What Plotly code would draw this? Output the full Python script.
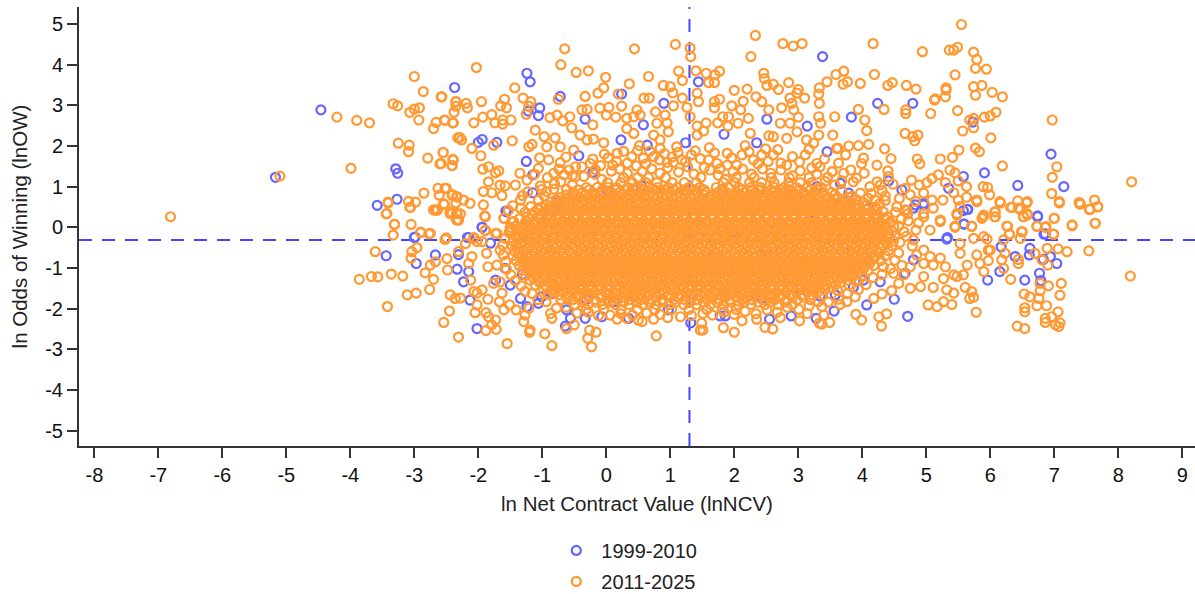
import plotly.graph_objects as go

x_ticks = [-8,-7,-6,-5,-4,-3,-2,-1,0,1,2,3,4,5,6,7,8,9]
y_ticks = [-5,-4,-3,-2,-1,0,1,2,3,4,5]
x_tick_labels = ["-8","-7","-6","-5","-4","-3","-2","-1","0","1","2","3","4","5","6","7","8","9"]
y_tick_labels = ["-5","-4","-3","-2","-1","0","1","2","3","4","5"]
mean_lnncv = 1.30
mean_lnow = -0.31

blue_points = [(-5.17,1.23),(-4.46,2.89),(-3.29,1.44),(-3.26,1.33),(-2.37,3.44),(-3.27,.69),(-3.58,.54),(-2.99,-.24),
(-1.24,3.79),(-1.19,3.58),(-.72,3.22),(-1.04,2.94),(-1.22,2.86),(-1.06,2.75),(-1.94,2.16),(-2.0,2.09),(-1.71,2.09),(-1.25,1.62),(-.43,1.76),(.23,2.15),(.64,2.02),(1.24,2.08),(1.44,3.58),(3.38,4.20),(1.84,2.29),(3.14,2.49),(2.51,2.66),(.90,3.05),(.24,3.28),(-.33,2.66),(.58,2.52),(2.35,2.08),(3.45,1.86),(-.21,1.35),(-1.15,1.29),(-1.15,.85),(-1.57,.40),(-1.94,0),(-2.17,-.25),
(4.24,3.05),(4.79,3.05),(3.83,2.71),(5.73,2.59),(6.95,1.80),(7.15,1.0),(6.43,1.03),(5.91,1.34),(5.58,1.25),(6.74,.26),(4.41,1.14),(4.62,.92),(5.35,.96),(5.65,.44),(5.58,.41),(5.59,.08),(5.33,-.25),(6.84,-.17),(3.79,.84),(4.96,.59),(4.80,.47),(4.10,.47),(3.29,1.0),(3.08,.84),(3.66,1.08),
(-3.0,-.25),(-3.44,-.70),(-2.67,-.68),(-2.97,-.89),(-2.33,-1.03),(-2.15,-1.09),(-2.23,-1.34),(-1.73,-1.30),(-1.58,-1.01),(-1.94,0),(-2.15,-.25),(-2.31,-.67),(-1.81,-.39),(-1.56,.38),(-2.02,-2.49),(-2.13,-1.79),(-1.24,-1.95),(-.64,-2.43),(-.56,-2.24),(-.07,-2.20),(-.33,-2.24),(.35,-2.24),(1.32,-2.35),(-1.50,-1.42),(-1.34,-1.75),(-1.06,-1.87),(-1.01,-1.71),(-.62,-2.03),(.11,-1.83),(.97,-2.03),
(6.74,.28),(5.59,.08),(5.64,.44),(6.86,-.16),(5.32,-.29),(6.17,-.48),(6.62,-.52),(6.39,-.72),(6.61,-.68),(6.83,-.79),(6.94,-.72),(7.04,-.89),(6.77,-1.13),(6.79,-1.31),(6.54,-1.30),(6.15,-1.09),(5.96,-1.30),(4.50,-1.77),(4.71,-2.19),(4.07,-1.91),(3.56,-2.06),(3.28,-2.24),(2.89,-2.18),(2.55,-2.26),(1.78,-2.18),(1.86,-2.18),(3.58,-1.66),(3.34,-1.69),(2.43,-1.75),(3.86,-1.48),(4.28,-1.34),(4.02,-1.30),(4.67,-1.13),(4.80,-.80),(4.42,-.23),(4.96,.55),(4.83,.55)]

blue_core = [(-.9,.31),(-.42,-.18),(.13,.52),(.71,-1.13),(1.22,.42),(1.67,-.72),(2.21,.63),(2.74,-1.21),(3.26,.17),(3.71,-.44),(-1.1,-.82),(-.61,-1.38),(-.15,-.63),(.38,-1.62),(.92,.11),(1.45,-1.44),(1.98,-.11),(2.49,-.58),(3.03,-1.53),(3.52,.58),(-.77,.62),(.02,.89),(.55,1.02),(1.12,-1.71),(1.81,.93),(2.33,-1.66),(2.87,.81),(3.41,-1.12),(3.93,-.93),(4.18,.12),(-1.22,-.31),(-1.31,-1.16),(-.85,-1.63),(-.31,-1.77)]

orange_left = [(-6.81,.26),(-5.10,1.26),(-4.21,2.71),(-3.90,2.63),(-3.70,2.57),(-3.99,1.45),(-3.25,2.07),(-3.08,2.02),(-3.09,1.86),(-2.79,1.70),(-2.60,1.56),(-2.55,1.84),(-2.39,1.66),(-2.41,1.52),(-2.32,2.20),(-3.33,3.04),(-3.26,2.99),(-3.07,2.83),(-3.0,2.91),(-2.92,2.94),(-2.93,2.64),(-3.0,3.71),(-2.86,3.34),(-2.58,3.21),(-2.35,3.09),(-2.35,2.98),(-2.38,2.83),(-2.52,2.63),(-2.66,2.58),(-2.70,2.43),(-2.39,2.57),
(-2.63,.96),(-2.50,.96),(-2.85,.84),(-2.61,.79),(-2.41,.79),(-2.34,.75),(-3.41,.62),(-3.44,.33),(-3.09,.64),(-2.98,.62),(-3.07,.49),(-2.53,.57),(-2.35,.60),(-2.67,.42),(-2.64,.42),(-2.70,.43),(-2.44,.34),(-2.34,.34),(-2.34,.18),(-3.31,.07),(-3.05,.07),(-3.33,-.19),(-2.90,-.12),(-2.77,-.16),(-2.50,-.26),
(-3.43,.34),(-3.31,.07),(-2.90,-.13),(-2.75,-.15),(-2.52,-.30),(-3.61,-.60),(-2.96,-.50),(-3.04,-.60),(-3.05,-.76),(-3.86,-1.28),(-3.67,-1.21),(-3.57,-1.22),(-3.36,-1.15),(-3.18,-1.20),(-2.83,-1.12),(-2.70,-1.28),(-2.75,-.93),(-2.67,-.85),(-2.49,-.77),(-2.48,-1.05),(-2.76,-1.53),(-3.11,-1.66),(-2.97,-1.62),(-3.42,-1.95),(-2.44,-1.66),(-2.36,-1.75),(-2.28,-1.74),(-2.45,-2.06),(-2.54,-2.34),(-2.31,-2.70),(-2.05,-2.10),(-1.88,-2.10),(-1.84,-2.20),(-1.73,-2.28),(-1.79,-2.40),(-1.88,-2.54),(-1.72,-2.51),(-1.55,-2.86),(-2.07,-1.58),(-1.94,-1.54),(-2.02,-1.62),(-1.85,-1.77),(-2.02,-1.91),(-1.67,-1.83),(-1.63,-1.62),(-1.51,-1.91),(-1.60,-2.03),(-1.41,-2.03),(-1.27,-2.16),(-1.29,-2.32),(-1.19,-2.53),(-1.2,-2.58),(-.96,-2.62),(-.85,-2.91),(-1.21,-1.99),(-.87,-2.12),(-.85,-2.24),(-.62,-2.49),(-.50,-2.40),(-.29,-2.73),(-.26,-2.53),(-.16,-2.58),(-.23,-2.94),(.17,-2.26),(.32,-2.24),(.50,-2.28),(.56,-2.32),(.74,-2.26),(.96,-2.22),(1.16,-2.20),(.78,-2.67),(1.47,-2.53),
(-2.20,-.40),(-2.07,-.27),(-1.71,-.15),(-1.89,-.08),(-1.50,0),(-1.60,.22),(-1.45,.14),(-1.90,.28),(-2.31,.18),(-2.28,.33),(-2.65,.43),(-2.41,.34),(-2.54,.57),(-3.06,.49),(-3.41,.60),(-2.10,-.72),(-1.87,-.64),(-1.71,-.93),(-1.85,-.97),(-2.15,-.89),(-1.66,-.56),(-2.02,-.35),(-1.94,-.35),(-2.12,-1.30),(-1.76,-1.38),(-1.66,-1.34),(-2.31,-.60)]

orange_top = [(-2.03,3.93),(-2.57,3.21),(-2.35,3.09),(-2.19,3.05),(-2.17,2.94),(-1.95,3.09),(-2.53,2.64),(-2.40,2.57),(-2.07,2.57),(-1.93,2.71),(-1.79,2.77),(-1.74,2.57),(-1.62,2.64),(-1.62,2.54),(-1.49,2.64),(-1.43,3.43),(-1.59,3.15),(-1.65,2.99),(-1.56,2.94),(-1.30,3.18),(-1.18,3.09),(-1.21,2.98),(-1.25,2.78),
(-.71,4.0),(-.65,4.39),(-.47,3.81),(-.28,3.85),(-.01,3.69),(-.04,3.43),(-.13,3.30),(.36,3.53),(.44,4.39),(.66,3.71),(1.08,4.50),(1.31,4.41),(1.32,4.20),(1.13,3.84),(1.19,3.61),(1.40,3.85),(1.56,3.79),(1.77,3.84),(1.70,3.75),(1.60,3.56),(1.69,3.56),(.89,3.49),(1.0,3.46),(1.04,3.31),(2.33,4.72),(2.26,4.20),(2.76,4.52),(2.92,4.46),(3.06,4.52),(2.46,3.79),(2.47,3.66),(2.51,3.49),(2.61,3.52),(2.69,3.39),(2.85,3.56),(2.0,3.37),(2.2,3.40),(3.0,3.39),(2.98,3.30),(2.87,3.18),(3.10,3.18),(3.33,3.43),(3.32,3.28),(3.45,3.58),(3.59,3.76),(3.33,3.05),
(-.33,3.22),(-.75,3.15),(.19,3.28),(.67,3.18),(.59,3.18),(1.19,3.18),(1.44,3.09),(1.42,3.30),(1.77,3.15),(1.69,3.09),(1.96,2.99),(2.14,3.10),(2.34,3.21),(2.43,3.09),(2.90,3.05),(1.05,2.99),(1.26,2.95),(1.69,2.94),(2.10,2.89),(2.54,2.89),(2.74,2.94),(2.93,2.89),
(-.38,2.89),(-.30,2.90),(-.10,2.93),(.04,2.95),(.24,2.98),(.48,2.89),(.53,2.76),(.77,2.84),(.92,2.76),(-.88,2.70),(-.77,2.76),(-.68,2.62),(-.57,2.72),(-.54,2.45),(-.21,2.52),(0,2.76),(.15,2.71),(.32,2.68),(.43,2.72),(.32,2.43),(.43,2.31),(.79,2.56),(.95,2.57),(.97,2.35),(1.31,2.72),(1.42,2.49),(1.42,2.27),(1.56,2.57),(1.52,2.37),(1.74,2.57),(1.82,2.72),(1.91,2.72),(1.90,2.49),(2.06,2.56),(2.22,2.68),(2.25,2.31),(2.54,2.25),(2.61,2.23),(2.72,2.56),(2.87,2.56),(3.0,2.71),(3.32,2.72),(3.35,2.56),(3.54,2.27),(3.57,2.72),
(-1.11,2.39),(-.97,2.23),(-.80,2.20),(-.41,2.27),(-.30,2.15),(-.2,2.17),(-2.29,2.21),(-2.26,2.15),(-2.10,1.94),(-1.76,2.02),(-1.47,2.13),(-1.21,1.98),(-1.16,2.04),(-.93,1.98),(-.72,1.98),(-.51,1.90),(-.04,2.08),(.17,1.82),(.52,2.01),(.74,2.27),(.84,2.15),(.84,1.94),(1.10,1.98),(1.39,1.88),(1.61,1.96),(1.89,1.82),(2.17,2.01),(2.43,1.78),(2.82,2.19),(2.98,2.35),(3.13,2.15),(3.32,2.27),(3.24,2.07),(3.60,1.94),
(-2.55,1.84),(-2.40,1.67),(-2.41,1.52),(-2.58,1.57),(-1.96,1.76),(-1.93,1.43),(-1.84,1.49),(-1.68,1.39),(-1.73,1.34),(-1.35,1.33),(-1.06,1.45),(-1.04,1.71),(-.90,1.66),(-.72,1.59),(-.82,1.33),(-.48,1.49),(-.38,1.49),(-.48,1.25),(-.35,1.25),(-.25,1.57),(-.09,1.52),(-.03,1.80),(.10,1.53),(.40,1.74),(.58,1.70),(.74,1.74),(.95,1.60),(1.05,1.60),(1.18,1.66),(1.60,1.66),(1.73,1.57),(1.89,1.53),(2.12,1.78),(2.30,1.66),(2.61,1.78),(2.82,1.53),(3.11,1.78),(3.29,1.57),(3.53,1.37),
(-2.52,.96),(-2.40,.80),(-2.33,.75),(-2.23,.67),(-2.54,.57),(-2.44,.38),(-2.31,.18),(-2.33,.34),(-2.13,.59),(-1.92,.88),(-1.84,1.12),(-1.79,.85),(-1.66,1.04),(-1.58,1.02),(-1.63,.78),(-1.92,.55),(-1.89,.26),(-1.60,.22),(-1.45,.14),(-1.34,.67),(-1.34,.47),(-1.42,1.04),(-1.24,1.16),(-1.03,1.02),(-1.89,-.07),(-1.73,-.15),(-1.50,-.07),(-2.07,-.25)]

orange_fringe = [(-.71,1.12),(-.62,.93),(-.93,.88),(-.18,1.31),(-.07,1.18),(.08,1.38),(.21,1.43),(.33,1.33),(.47,1.51),(.56,1.37),(.71,1.44),(.84,1.33),(.96,1.47),(1.13,1.36),(1.27,1.49),(1.37,1.31),(1.48,1.23),(1.62,1.41),(1.75,1.28),(1.86,1.18),(1.98,1.37),(2.13,1.43),(2.27,1.31),(2.44,1.44),(2.57,1.33),(2.73,1.41),(2.91,1.27),(3.03,1.39),(3.17,1.22),(3.29,1.31),(3.42,1.13),(3.57,1.04),(3.68,.89),(3.84,.76),(3.97,.84),(4.09,.72),(4.27,.58),(4.36,.66),(4.52,.37),(4.61,.21),(4.57,.03),(4.72,.16),(4.84,-.07),(4.69,-.22),(4.59,-.37),(4.78,-.46),(4.57,-.63),(4.51,-.81),(4.62,-.94),(4.44,-1.02),(4.31,-1.16),(4.17,-1.24),(4.06,-1.41),(3.94,-1.53),(3.77,-1.63),(3.63,-1.77),(3.47,-1.84),(3.31,-1.83),(3.17,-1.93),(3.01,-2.02),(2.83,-1.97),(2.67,-2.09),(2.51,-2.03),(2.34,-2.13),(2.17,-2.07),(2.0,-2.14),(1.84,-2.09),(1.66,-2.16),(1.51,-2.12),(1.33,-2.17),(.84,-2.14),(.63,-2.11),(.41,-2.16),(.23,-2.13),(.06,-2.16),(-.12,-2.17),(-.28,-2.09),(-.46,-2.11),(-.63,-1.97),(-.78,-1.99),(-.94,-1.83),(-1.07,-1.78),(-1.16,-1.63),(-1.27,-1.58),(-1.33,-1.44),(-1.42,-1.31),(-1.49,-1.17),(-1.56,-1.03),(-1.57,-.84),(-1.61,-.68),(-1.62,-.44),(-1.58,-.27),(-1.52,-.13),(-1.41,.03),(-1.36,.21),(-1.27,.37),(-1.18,.51),(-1.06,.67),(-.97,.77),(-.82,.94),(-.53,1.04)]

orange_mid_band = [(-.63,1.73),(-.58,1.41),(-.21,1.68),(-.17,1.42),(.03,1.71),(.16,1.62),(.27,1.87),(.33,1.58),(.49,1.89),(.62,1.56),(.68,1.87),(.83,1.66),(.91,1.81),(1.03,1.73),(1.12,1.84),(1.24,1.61),(1.33,1.78),(1.47,1.69),(1.53,1.47),(1.69,1.83),(1.78,1.44),(1.96,1.71),(2.04,1.53),(2.23,1.86),(2.37,1.56),(2.49,1.93),(2.53,1.62),(2.68,1.91),(2.73,1.58),(2.91,1.74),(3.02,1.61),(3.17,1.92),(3.21,1.46),(3.41,1.68),(3.46,1.23),(3.63,1.58),(3.68,1.14),(3.82,1.41),(3.91,1.21),(4.03,1.33),(4.14,.83),(4.28,1.04),(4.36,.77),(4.58,.71),(4.67,.96),(4.83,.64),(4.89,1.04),(4.71,.33),(4.88,.11),(-1.12,1.31),(-1.01,.93),(-.92,1.22),(-.81,1.07),(-.74,1.43),(-.66,1.29),(-.53,1.27),(-1.23,.87),(-1.31,.78),(-1.46,.53),(-1.53,.42)]

orange_right = [(4.17,4.52),(4.94,4.32),(5.55,4.99),(5.36,4.36),(5.43,4.36),(5.49,4.43),(5.74,4.31),(5.79,4.13),(5.77,3.91),(5.94,3.89),(5.45,3.75),(4.19,3.76),(3.71,3.84),(3.70,3.52),(3.77,3.58),(3.97,3.54),(4.40,3.49),(4.47,3.56),(4.69,3.49),(4.84,3.40),(5.31,3.43),(5.31,3.38),(5.30,3.21),(5.13,3.13),(5.14,3.16),(5.74,3.46),(5.87,3.49),(5.77,3.25),(6.03,3.32),(6.19,3.21),(5.49,2.87),(5.07,2.80),(4.68,2.89),(4.68,2.80),(4.34,2.90),(3.94,2.90),(4.04,2.64),(4.07,2.38),(6.09,2.83),(6.0,2.74),(5.91,2.71),(5.68,2.64),(5.74,2.68),(5.74,2.45),(5.57,2.37),(6.97,2.64),(6.01,2.20),(4.67,2.31),(4.87,2.27),(4.79,2.23),(4.82,2.13),(3.79,2.0),(3.94,2.01),(4.10,2.04),(3.62,1.94),(4.35,1.93),(4.45,1.69),(3.74,1.78),(4.02,1.70),(3.99,1.57),(4.23,1.53),(4.86,1.68),(4.90,1.56),(5.22,1.68),(5.41,1.72),(5.51,1.90),(5.77,1.95),(5.83,1.86),(6.19,1.51),(7.04,1.49),(6.97,1.23),(8.21,1.12),(6.96,.83),(7.08,.63),(7.39,.61),(7.63,.67),(7.68,.50),(7.55,.44),(7.40,.57),(7.64,.10),(7.28,.04),(7.0,.22),(6.86,0),(6.73,.02),(6.99,-.17),(6.32,.49),(6.43,.65),(6.58,.63),(6.47,.44),(6.52,.26),(6.58,.33),(6.27,.02),(6.50,-.11),(6.30,-.17),(6.15,.63),(5.79,.67),(6.07,.38),(6.08,.26),(5.89,.26),(5.71,.02),(5.89,1.0),(5.96,.98),(5.99,.80),(5.63,1.0),(5.37,1.41),(5.45,1.34),(5.50,1.14),(5.19,1.29),(5.09,1.20),(5.01,1.10),(4.77,1.16),(4.96,.84),(5.30,1.10),(5.43,.85),(5.63,.74),(5.50,.67),(5.26,.67),(5.09,.67),(5.53,.51),(5.48,.30),(4.40,1.39),(4.41,1.25),(4.48,1.06),(4.23,1.12),(4.12,1.0),(3.86,1.12),(3.71,1.33),(3.53,1.37),(3.34,1.49),(4.31,.90),(4.75,.80),(4.20,.67),(4.67,.43),(4.54,.51),(5.11,.47),(4.96,.34),(5.22,.18),(5.45,.03)]

orange_bottom_right = [(1.49,-2.36),(1.51,-2.53),(1.83,-2.47),(2.0,-2.58),(2.12,-2.30),(2.35,-2.26),(2.48,-2.46),(2.60,-2.50),(2.72,-2.22),(3.02,-2.30),(3.14,-2.12),(3.33,-2.36),(3.37,-2.38),(3.49,-2.34),(3.40,-2.16),(3.37,-1.95),(3.90,-2.14),(3.99,-2.28),(4.26,-2.20),(4.38,-2.13),(4.30,-2.43),(3.65,-1.90),(3.76,-1.83),(3.89,-1.71),(4.18,-1.75),(4.31,-1.64),(4.46,-1.56),(4.75,-1.50),(5.03,-1.91),(5.17,-1.95),(5.40,-1.90),(5.27,-1.83),(5.78,-2.09),(5.68,-1.75),(5.74,-1.72),(5.71,-1.58),(5.61,-1.48),(5.43,-1.62),(5.32,-1.54),(5.48,-1.21),(5.27,-1.26),(5.11,-1.48),(4.91,-1.46),(6.32,-1.28),(6.53,-1.64),(6.62,-1.71),(6.76,-1.75),(6.73,-1.93),(6.88,-1.93),(6.54,-1.98),(6.54,-2.08),(7.06,-2.08),(6.96,-2.20),(6.86,-2.24),(6.86,-2.34),(7.02,-2.40),(7.07,-2.44),(7.09,-2.35),(6.42,-2.43),(6.54,-2.49),(7.09,-1.67),(7.11,-1.38),(6.91,-1.44),(6.78,-1.38),(6.78,-1.56),(8.19,-1.20),(7.54,-.58),(7.20,-.60),(7.06,-.53),(6.90,-.93),(6.89,-.52),(6.81,-.80),(6.70,-.64),(6.44,-.89),(6.44,-.79),(6.23,-.64),(6.18,-.80),(6.21,-1.01),(6.0,-.56),(5.97,-.56),(5.97,-.82),(5.74,-.27),(5.90,-.23),(5.95,-.29),(5.53,-.40),(5.53,-.64),(5.45,0),(5.71,.03),(5.87,.22),(5.90,.30),(6.08,.38),(6.07,.26),(6.26,.03),(6.30,-.17),(6.21,-.31),(6.49,-.11),(6.47,-.27),(6.73,.03),(6.87,.02),(6.99,-.17),(7.0,.22),(7.28,.06),(7.64,.10),(7.68,.51),(7.41,.57),(7.56,.44),(7.08,.60),(6.34,.49),(6.44,.47),(6.58,.30),(6.52,.26),(6.16,.60),(6.57,.60),(5.79,.63),(5.48,.34),(5.22,-.76),(5.30,-.97),(5.43,-1.17),(5.79,-.68),(5.84,-.89),(5.90,-1.09),(5.64,-.93),(5.58,-1.17),(4.96,-.56),(5.06,-.72),(4.85,-.68),(4.96,-.89),(5.11,-.93),(4.75,-.97),(4.65,-1.17),(4.49,-1.13),(4.33,-.97),(4.57,-1.38),(4.96,-1.21),(5.22,.14),(5.06,-.07),(4.80,-.31),(4.65,-.11),(4.96,.26),(4.70,.42)]

# The dense centre cannot be read ring by ring: each row is an estimate of where rings lie at that lnOW
core_y = [1.22,1.1,.98,.86,.74,.62,.5,.38,.26,.14,.02,-.1,-.22,-.34,-.46,-.58,-.7,-.82,-.94,-1.06,-1.18,-1.3,-1.42,-1.54,-1.66,-1.78,-1.9,-2.02]
core_rows = [
[.27,.49,.66,.93,2.03,2.31,2.58,2.86],
[.02,.23,.41,.62,.79,1.03,1.22,1.41,1.83,2.01,2.24,2.43,2.62,2.85,3.03,3.21],
[-.31,-.14,.03,.16,.34,.47,.66,.8,.97,1.11,1.29,1.46,1.72,1.91,2.07,2.26,2.41,2.63,2.78,2.97,3.14,3.36],
[-.52,-.37,-.21,-.08,.08,.21,.38,.52,.69,.83,.98,1.14,1.27,1.43,1.56,1.74,1.88,2.04,2.17,2.33,2.49,2.62,2.79,2.93,3.08,3.24,3.37,3.52],
[-.71,-.58,-.42,-.27,-.13,.01,.14,.31,.44,.59,.73,.87,1.02,1.16,1.31,1.44,1.61,1.73,1.89,2.03,2.18,2.31,2.46,2.61,2.74,2.88,3.03,3.17,3.33,3.46,3.61,3.79],
[-.87,-.72,-.59,-.44,-.31,-.16,-.03,.12,.26,.41,.54,.68,.83,.97,1.12,1.26,1.39,1.53,1.68,1.82,1.96,2.11,2.24,2.38,2.53,2.67,2.81,2.96,3.09,3.24,3.38,3.53,3.67,3.82,4.01],
[-1.02,-.86,-.73,-.57,-.44,-.29,-.14,-.02,.13,.28,.41,.56,.69,.84,.98,1.13,1.27,1.41,1.54,1.69,1.83,1.97,2.12,2.26,2.39,2.54,2.68,2.83,2.97,3.11,3.24,3.39,3.53,3.68,3.81,3.96,4.2],
[-1.12,-.98,-.83,-.69,-.54,-.41,-.26,-.12,.03,.17,.31,.44,.59,.73,.88,1.01,1.16,1.29,1.44,1.58,1.73,1.86,2.01,2.14,2.29,2.43,2.58,2.71,2.86,3.01,3.14,3.29,3.42,3.57,3.71,3.86,3.99,4.14,4.33],
[-1.23,-1.07,-.94,-.78,-.64,-.51,-.36,-.22,-.07,.06,.21,.36,.49,.64,.78,.93,1.06,1.21,1.36,1.49,1.64,1.78,1.92,2.07,2.21,2.34,2.49,2.64,2.77,2.92,3.06,3.21,3.34,3.48,3.63,3.77,3.91,4.06,4.19,4.39],
[-1.26,-1.13,-.98,-.84,-.69,-.56,-.41,-.27,-.13,.02,.16,.29,.44,.58,.73,.87,1.01,1.14,1.29,1.43,1.57,1.72,1.86,1.99,2.14,2.28,2.43,2.56,2.71,2.84,2.99,3.13,3.27,3.42,3.56,3.69,3.84,3.98,4.13,4.27,4.44],
[-1.32,-1.18,-1.03,-.89,-.76,-.61,-.47,-.33,-.18,-.04,.09,.24,.38,.53,.66,.81,.96,1.09,1.23,1.38,1.51,1.66,1.81,1.94,2.09,2.22,2.37,2.51,2.66,2.79,2.94,3.08,3.22,3.36,3.51,3.64,3.79,3.92,4.07,4.21,4.36,4.49],
[-1.36,-1.22,-1.08,-.93,-.79,-.66,-.51,-.37,-.23,-.08,.06,.2,.34,.48,.63,.77,.91,1.04,1.19,1.33,1.48,1.61,1.76,1.9,2.04,2.18,2.33,2.46,2.61,2.75,2.89,3.03,3.18,3.31,3.46,3.6,3.74,3.88,4.03,4.16,4.31,4.47],
[-1.42,-1.27,-1.14,-.99,-.84,-.71,-.56,-.42,-.28,-.13,.01,.14,.29,.43,.58,.71,.86,.99,1.14,1.28,1.43,1.56,1.71,1.84,1.99,2.13,2.28,2.41,2.56,2.69,2.84,2.98,3.12,3.27,3.41,3.54,3.69,3.83,3.97,4.12,4.26,4.39,4.51],
[-1.46,-1.31,-1.17,-1.03,-.88,-.74,-.61,-.46,-.32,-.18,-.03,.11,.24,.39,.53,.68,.81,.96,1.09,1.24,1.38,1.53,1.66,1.81,1.94,2.09,2.23,2.37,2.52,2.66,2.79,2.94,3.08,3.23,3.36,3.51,3.64,3.79,3.93,4.08,4.21,4.36,4.49],
[-1.47,-1.33,-1.19,-1.04,-.91,-.76,-.62,-.48,-.33,-.19,-.06,.09,.23,.38,.51,.66,.79,.94,1.08,1.23,1.36,1.51,1.64,1.79,1.93,2.07,2.21,2.36,2.49,2.64,2.78,2.92,3.06,3.21,3.34,3.49,3.63,3.77,3.91,4.06,4.19,4.33,4.46],
[-1.44,-1.31,-1.16,-1.02,-.88,-.73,-.59,-.46,-.31,-.17,-.02,.11,.26,.39,.54,.68,.83,.96,1.11,1.24,1.39,1.53,1.67,1.81,1.96,2.09,2.24,2.38,2.52,2.66,2.81,2.94,3.09,3.23,3.37,3.51,3.66,3.79,3.94,4.08,4.22,4.41],
[-1.46,-1.32,-1.17,-1.03,-.89,-.74,-.61,-.47,-.32,-.18,-.04,.11,.24,.38,.53,.67,.81,.94,1.09,1.23,1.37,1.52,1.66,1.79,1.94,2.08,2.22,2.36,2.51,2.64,2.79,2.93,3.07,3.22,3.36,3.49,3.64,3.78,3.92,4.06,4.19,4.36],
[-1.41,-1.27,-1.13,-.98,-.84,-.71,-.56,-.42,-.28,-.13,.01,.14,.29,.43,.58,.71,.86,.99,1.14,1.28,1.42,1.56,1.71,1.84,1.99,2.13,2.27,2.42,2.56,2.69,2.84,2.98,3.12,3.26,3.41,3.54,3.69,3.83,3.97,4.11,4.29],
[-1.36,-1.22,-1.07,-.93,-.79,-.64,-.51,-.37,-.22,-.08,.06,.21,.34,.48,.63,.77,.91,1.04,1.19,1.33,1.47,1.62,1.76,1.89,2.04,2.18,2.32,2.47,2.61,2.74,2.89,3.03,3.17,3.31,3.46,3.59,3.74,3.88,4.02,4.18],
[-1.31,-1.17,-1.02,-.88,-.74,-.59,-.46,-.32,-.17,-.03,.11,.26,.39,.53,.68,.82,.96,1.09,1.24,1.38,1.52,1.67,1.81,1.94,2.09,2.23,2.37,2.52,2.66,2.79,2.94,3.08,3.22,3.37,3.51,3.64,3.79,3.93,4.09],
[-1.26,-1.11,-.97,-.83,-.68,-.54,-.41,-.26,-.12,.02,.17,.31,.44,.59,.73,.88,1.01,1.16,1.29,1.44,1.58,1.72,1.87,2.01,2.14,2.29,2.43,2.57,2.72,2.86,2.99,3.14,3.28,3.42,3.57,3.71,3.84,3.99],
[-1.19,-1.06,-.91,-.77,-.63,-.48,-.34,-.21,-.06,.08,.22,.37,.51,.64,.79,.93,1.07,1.22,1.36,1.49,1.64,1.78,1.92,2.07,2.21,2.34,2.49,2.63,2.77,2.92,3.06,3.19,3.34,3.48,3.62,3.77,3.91],
[-1.11,-.96,-.82,-.68,-.53,-.39,-.26,-.11,.03,.17,.32,.46,.59,.74,.88,1.02,1.17,1.31,1.44,1.59,1.73,1.87,2.02,2.16,2.29,2.44,2.58,2.72,2.87,3.01,3.14,3.29,3.43,3.58,3.79],
[-.98,-.84,-.69,-.56,-.41,-.27,-.13,.02,.16,.29,.44,.58,.72,.87,1.01,1.14,1.29,1.43,1.57,1.72,1.86,1.99,2.14,2.28,2.42,2.57,2.71,2.84,2.99,3.13,3.27,3.42,3.61],
[-.91,-.74,-.58,-.43,-.27,-.11,.04,.21,.36,.53,.68,.84,.99,1.16,1.31,1.47,1.62,1.79,1.94,2.11,2.26,2.42,2.57,2.74,2.89,3.06,3.21,3.38],
[-.71,-.53,-.36,-.18,.01,.18,.36,.53,.71,.88,1.06,1.23,1.42,1.58,1.77,1.93,2.12,2.28,2.47,2.63,2.82,2.98,3.19],
[-.49,-.28,-.06,.14,.36,.57,.78,.98,1.21,1.41,1.63,1.83,2.06,2.26,2.48,2.68,2.91],
[-.31,-.04,.23,.49,.76,1.02,1.29,1.57,1.81,2.03]]

fill_y = [.92,.8,.68,.56,.44,.32,.2,.08,-.04,-.16,-.28,-.4,-.52,-.64,-.76,-.88,-1.0,-1.12,-1.24,-1.36,-1.48,-1.6,-1.72,-1.84]
fill_rows = [
[-.44,-.27,-.06,.15,.29,.46,.6,.76,.91,1.06,1.21,1.37,1.53,1.81,2.12,2.27,2.41,2.57,2.72,2.87,3.01,3.19,3.31],
[-.63,-.48,-.33,-.19,-.06,.09,.24,.37,.51,.66,.8,.94,1.09,1.23,1.37,1.52,1.66,1.81,1.96,2.09,2.24,2.38,2.53,2.67,2.81,2.94,3.11,3.26,3.41,3.57],
[-.78,-.64,-.51,-.36,-.23,-.09,.07,.19,.34,.49,.62,.77,.91,1.04,1.19,1.33,1.47,1.61,1.76,1.89,2.04,2.18,2.31,2.46,2.61,2.74,2.89,3.03,3.17,3.31,3.46,3.59,3.74,3.91],
[-.94,-.79,-.66,-.51,-.37,-.23,-.09,.06,.19,.34,.48,.61,.76,.91,1.04,1.19,1.33,1.46,1.61,1.76,1.89,2.04,2.18,2.33,2.46,2.61,2.76,2.89,3.04,3.17,3.31,3.46,3.61,3.74,3.89,4.07],
[-1.07,-.91,-.77,-.63,-.49,-.34,-.21,-.07,.08,.23,.36,.51,.64,.79,.93,1.07,1.21,1.36,1.49,1.63,1.78,1.91,2.06,2.21,2.34,2.48,2.63,2.77,2.91,3.06,3.19,3.33,3.48,3.61,3.76,3.91,4.06,4.23],
[-1.16,-1.02,-.87,-.73,-.59,-.46,-.31,-.17,-.03,.12,.26,.39,.54,.68,.81,.96,1.11,1.24,1.38,1.53,1.66,1.81,1.96,2.09,2.24,2.38,2.51,2.66,2.81,2.94,3.09,3.23,3.38,3.51,3.66,3.79,3.94,4.08,4.24],
[-1.2,-1.04,-.91,-.76,-.62,-.48,-.33,-.19,-.06,.09,.24,.37,.52,.66,.79,.94,1.08,1.23,1.36,1.51,1.66,1.79,1.94,2.08,2.23,2.36,2.51,2.66,2.79,2.94,3.08,3.22,3.36,3.51,3.66,3.79,3.94,4.07,4.22,4.36],
[-1.27,-1.11,-.96,-.82,-.68,-.53,-.39,-.26,-.11,.03,.17,.31,.46,.59,.74,.88,1.02,1.17,1.31,1.46,1.59,1.74,1.88,2.01,2.16,2.31,2.44,2.59,2.73,2.87,3.01,3.16,3.29,3.44,3.58,3.72,3.87,4.01,4.14,4.29,4.43],
[-1.3,-1.16,-1.01,-.86,-.72,-.58,-.44,-.29,-.16,-.01,.13,.27,.41,.56,.69,.84,.98,1.12,1.26,1.41,1.54,1.69,1.83,1.97,2.12,2.26,2.41,2.54,2.69,2.83,2.97,3.11,3.26,3.39,3.53,3.68,3.82,3.96,4.11,4.24,4.39],
[-1.38,-1.23,-1.09,-.96,-.81,-.67,-.53,-.38,-.24,-.11,.04,.18,.33,.46,.61,.74,.89,1.03,1.18,1.31,1.46,1.59,1.74,1.89,2.02,2.17,2.31,2.46,2.59,2.74,2.88,3.02,3.16,3.31,3.44,3.59,3.73,3.87,4.01,4.17,4.31],
[-1.39,-1.24,-1.11,-.96,-.82,-.68,-.53,-.39,-.26,-.11,.03,.16,.31,.46,.59,.74,.88,1.02,1.16,1.31,1.44,1.59,1.73,1.88,2.01,2.16,2.29,2.44,2.58,2.73,2.87,3.01,3.16,3.29,3.44,3.58,3.72,3.86,4.01,4.14,4.29,4.41],
[-1.4,-1.26,-1.12,-.97,-.83,-.69,-.54,-.41,-.27,-.12,.02,.16,.31,.44,.59,.72,.87,1.01,1.16,1.29,1.44,1.58,1.72,1.87,2.01,2.14,2.29,2.43,2.58,2.71,2.86,2.99,3.14,3.28,3.42,3.57,3.71,3.84,3.99,4.13,4.27,4.39],
[-1.39,-1.24,-1.09,-.96,-.81,-.67,-.53,-.39,-.24,-.11,.04,.18,.32,.46,.61,.74,.89,1.03,1.17,1.31,1.46,1.59,1.74,1.88,2.02,2.17,2.31,2.44,2.59,2.73,2.87,3.01,3.16,3.29,3.44,3.58,3.72,3.87,4.01,4.14,4.28],
[-1.37,-1.24,-1.1,-.96,-.81,-.67,-.54,-.39,-.24,-.11,.03,.18,.31,.46,.59,.74,.88,1.02,1.16,1.31,1.44,1.59,1.73,1.87,2.01,2.16,2.29,2.44,2.59,2.71,2.87,3.01,3.14,3.29,3.43,3.58,3.71,3.86,4.01,4.13,4.26],
[-1.34,-1.2,-1.06,-.91,-.77,-.64,-.49,-.34,-.21,-.06,.08,.21,.36,.51,.64,.79,.93,1.06,1.21,1.36,1.49,1.64,1.78,1.92,2.06,2.21,2.34,2.49,2.64,2.76,2.92,3.06,3.19,3.34,3.48,3.62,3.76,3.91,4.06,4.19],
[-1.29,-1.14,-.99,-.86,-.71,-.57,-.43,-.29,-.14,-.01,.14,.28,.42,.56,.71,.84,.99,1.13,1.27,1.41,1.56,1.69,1.84,1.98,2.12,2.27,2.41,2.54,2.69,2.83,2.97,3.11,3.26,3.39,3.54,3.68,3.82,3.97,4.12],
[-1.24,-1.09,-.94,-.81,-.66,-.52,-.38,-.24,-.09,.04,.19,.33,.47,.61,.76,.89,1.04,1.18,1.32,1.46,1.61,1.74,1.89,2.03,2.17,2.32,2.46,2.59,2.74,2.88,3.02,3.16,3.31,3.44,3.59,3.73,3.87,4.03],
[-1.19,-1.04,-.89,-.76,-.61,-.47,-.33,-.19,-.04,.09,.24,.38,.52,.66,.81,.94,1.09,1.23,1.37,1.51,1.66,1.79,1.94,2.08,2.22,2.37,2.51,2.64,2.79,2.93,3.07,3.21,3.36,3.49,3.64,3.78,3.94],
[-1.14,-.99,-.84,-.71,-.56,-.42,-.28,-.14,.01,.14,.29,.43,.57,.71,.86,.99,1.14,1.28,1.42,1.56,1.71,1.84,1.99,2.13,2.27,2.42,2.56,2.69,2.84,2.98,3.12,3.26,3.41,3.54,3.69,3.84],
[-1.04,-.89,-.74,-.61,-.46,-.32,-.18,-.04,.11,.24,.39,.53,.67,.81,.96,1.09,1.24,1.38,1.52,1.66,1.81,1.94,2.09,2.23,2.37,2.52,2.66,2.79,2.94,3.08,3.22,3.36,3.51,3.66],
[-.93,-.78,-.63,-.5,-.36,-.21,-.07,.07,.22,.36,.49,.64,.78,.92,1.07,1.21,1.34,1.49,1.63,1.77,1.92,2.06,2.19,2.34,2.48,2.62,2.77,2.91,3.04,3.19,3.33,3.52],
[-.83,-.67,-.5,-.34,-.19,-.02,.13,.28,.44,.61,.76,.91,1.07,1.24,1.39,1.54,1.71,1.86,2.02,2.18,2.34,2.49,2.66,2.81,2.97,3.14,3.3],
[-.62,-.44,-.27,-.09,.09,.27,.44,.62,.79,.97,1.14,1.32,1.49,1.67,1.86,2.03,2.19,2.38,2.56,2.72,2.91,3.08],
[-.38,-.16,.06,.27,.47,.67,.88,1.09,1.31,1.52,1.73,1.94,2.16,2.37,2.58,2.79]]

orange_core = [(x, y) for y, row in zip(core_y, core_rows) for x in row]
orange_fill = [(x, y) for y, row in zip(fill_y, fill_rows) for x in row]
orange_points = orange_left + orange_top + orange_fringe + orange_mid_band + orange_right + orange_bottom_right + orange_core + orange_fill
blue_all = blue_points + blue_core

BLUE = "#6666ff"
ORANGE = "#ff9933"
LINE = "#4444ff"
FONT = "Liberation Sans"

fig = go.Figure()
fig.add_trace(go.Scatter(x=[p[0] for p in blue_all], y=[p[1] for p in blue_all], mode="markers", name="1999-2010",
    legendgroup="a", marker=dict(symbol="circle-open", size=9, color=BLUE, line=dict(width=2.2, color=BLUE))))
fig.add_trace(go.Scatter(x=[p[0] for p in orange_points], y=[p[1] for p in orange_points], mode="markers", name="2011-2025",
    legendgroup="b", marker=dict(symbol="circle-open", size=9, color=ORANGE, line=dict(width=2.2, color=ORANGE))))

fig.add_shape(type="line", layer="below", xref="x", yref="paper", x0=mean_lnncv, x1=mean_lnncv, y0=0, y1=1,
              line=dict(color=LINE, width=2, dash="13px,10px"))
fig.add_shape(type="line", layer="below", xref="paper", yref="y", x0=0, x1=1, y0=mean_lnow, y1=mean_lnow,
              line=dict(color=LINE, width=2, dash="13px,10px"))

axis_common = dict(showgrid=False, zeroline=False, showline=True, linecolor="#333333", linewidth=2, automargin=False,
                   ticks="outside", ticklen=10, tickwidth=1.5, tickcolor="#333333", tickmode="array",
                   tickfont=dict(family=FONT, size=20, color="#111111"), title_font=dict(family=FONT, size=20.5, color="#222222"))
fig.update_xaxes(range=[-8.24, 9.2], tickvals=x_ticks, ticktext=x_tick_labels, title_text="ln Net Contract Value (lnNCV)", title_standoff=12, **axis_common)
fig.update_yaxes(range=[-5.38, 5.42], tickvals=y_ticks, ticktext=y_tick_labels, title_text="ln Odds of Winning (lnOW)", title_standoff=12, **axis_common)

# The canvas runs a little past the 594 px window so the legend's second row does not squeeze the axes
fig.update_layout(width=1195, height=612, margin=dict(l=78.5, r=0, t=7, b=166), autosize=False,
    paper_bgcolor="white", plot_bgcolor="white", hovermode=False, font=dict(family=FONT, size=20, color="#222222"),
    showlegend=True,
    legend=dict(orientation="v", x=0.4232, xanchor="left", y=-0.1935, yanchor="top", traceorder="grouped", tracegroupgap=2,
                itemsizing="trace", itemwidth=40, font=dict(family=FONT, size=20, color="#222222"), bgcolor="rgba(0,0,0,0)"))

fig.write_html("out.html", config={"displayModeBar": False},
               post_script="document.body.style.margin='0';document.documentElement.style.overflow='hidden';")
